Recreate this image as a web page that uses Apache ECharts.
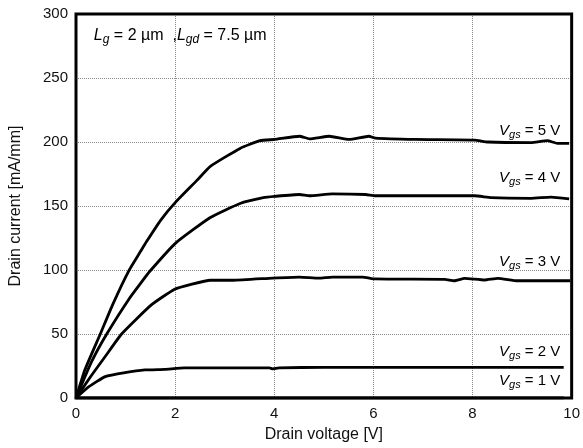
<!DOCTYPE html>
<html>
<head>
<meta charset="utf-8">
<script src="https://cdn.jsdelivr.net/npm/echarts@6/dist/echarts.min.js"></script>
<style>
html,body{margin:0;padding:0;background:#fff;}
#c{width:583px;height:448px;}
</style>
</head>
<body>
<div id="c"></div>
<script>
// ---- data ----
const xTicks = [0, 2, 4, 6, 8, 10];
const yTicks = [0, 50, 100, 150, 200, 250, 300];

const vgs5X = [0, 0.18, 0.49, 0.74, 1.06, 1.31, 1.42, 1.71, 2.01, 2.44, 2.71, 3.31, 3.71, 4.01, 4.51, 4.71, 5.11, 5.51, 5.91, 6.04, 6.84, 8.04, 8.31, 9.18, 9.51, 9.71, 9.95];
const vgs5Y = [0, 22, 50, 73, 99, 115, 122, 139, 153, 170, 181, 195, 201, 202, 204.5, 202.5, 204.5, 202, 204.5, 203, 202, 201.5, 200, 199.5, 201, 199, 199];

const vgs4X = [0, 0.31, 0.62, 1.08, 1.31, 1.49, 2.01, 2.71, 3.31, 3.78, 4.01, 4.51, 4.71, 5.17, 5.84, 6.04, 6.84, 8.04, 8.38, 9.18, 9.58, 9.95];
const vgs4Y = [0, 28, 50, 78, 90, 99, 121, 141, 152, 156.5, 157.5, 159, 158, 159.5, 159, 158, 158, 158, 156.5, 156, 157, 155.5];

const vgs3X = [0, 0.3, 0.6, 0.92, 1.52, 1.99, 2.34, 2.71, 3.17, 3.97, 4.51, 4.9, 5.17, 5.78, 6.04, 7.44, 7.63, 7.84, 8.24, 8.51, 8.91, 9.97];
const vgs3Y = [0, 17, 33, 50, 72.7, 85, 89, 92, 92, 93.7, 94.5, 93.7, 94.5, 94.5, 93, 92.7, 91.6, 93.5, 92.2, 93.5, 91.6, 91.6];

const vgs2X = [0, 0.26, 0.59, 0.99, 1.39, 1.79, 2.19, 3.5, 3.9, 3.97, 4.1, 5, 7, 9.84];
const vgs2Y = [0, 8.8, 16.7, 19.8, 21.9, 22.4, 23.5, 23.5, 23.5, 22.8, 23.5, 24, 24, 24];

const vgs1X = [0, 9.84];
const vgs1Y = [0, 0];

const seriesNames = ['Vgs = 5 V', 'Vgs = 4 V', 'Vgs = 3 V', 'Vgs = 2 V', 'Vgs = 1 V'];
const gateValues = ['5', '4', '3', '2', '1'];
const xTitle = 'Drain voltage [V]';
const yTitle = 'Drain current [mA/mm]';

// ---- chart ----
const zip = (xs, ys) => xs.map((x, i) => [x, ys[i]]);
const allData = [zip(vgs5X, vgs5Y), zip(vgs4X, vgs4Y), zip(vgs3X, vgs3Y), zip(vgs2X, vgs2Y), zip(vgs1X, vgs1Y)];

const FONT = 'Liberation Sans, Arial, sans-serif';
const chart = echarts.init(document.getElementById('c'), null, {renderer: 'canvas'});

chart.setOption({
  animation: false,
  backgroundColor: '#fff',
  grid: {left: 74.5, right: 8.5, top: 14, bottom: 50, show: true, borderColor: '#000', borderWidth: 3, backgroundColor: 'transparent', z: 10},
  xAxis: {
    type: 'value', min: 0, max: 10, interval: 2,
    name: xTitle, nameLocation: 'middle', nameGap: 29,
    nameTextStyle: {fontFamily: FONT, fontSize: 16, color: '#111'},
    axisLine: {show: false}, axisTick: {show: false},
    axisLabel: {fontFamily: FONT, fontSize: 15, color: '#111', margin: 8},
    splitLine: {show: true, lineStyle: {color: '#888', type: [1, 1], width: 1}}
  },
  yAxis: {
    type: 'value', min: 0, max: 300, interval: 50,
    name: yTitle, nameLocation: 'middle', nameGap: 52,
    nameTextStyle: {fontFamily: FONT, fontSize: 16, color: '#111'},
    axisLine: {show: false}, axisTick: {show: false},
    axisLabel: {fontFamily: FONT, fontSize: 15, color: '#111', margin: 8},
    splitLine: {show: true, lineStyle: {color: '#888', type: [1, 1], width: 1}}
  },
  series: allData.map((d, i) => ({
    name: seriesNames[i], type: 'line', data: d, showSymbol: false, symbol: 'none',
    smooth: 0.15,
    lineStyle: {color: '#000', width: 2.8}, z: 5
  }))
});

// annotations (anchored in data space)
const labelAnchors = [[9.77, 208], [9.77, 171], [9.77, 105.5], [9.77, 35], [9.77, 12.5]];
const mkRich = (big, small, pad) => ({
  v: {fontFamily: FONT, fontSize: big, fontStyle: 'italic', color: '#111', lineHeight: big + 2, verticalAlign: 'top'},
  s: {fontFamily: FONT, fontSize: small, fontStyle: 'italic', color: '#111', lineHeight: small + 1, padding: [pad, 0, 0, 0], verticalAlign: 'top'},
  n: {fontFamily: FONT, fontSize: big, color: '#111', lineHeight: big + 2, verticalAlign: 'top'}
});
const graphics = labelAnchors.map((a, i) => {
  const p = chart.convertToPixel({gridIndex: 0}, a);
  return {
    type: 'text', x: p[0], y: p[1], z: 20,
    style: {text: '{v|V}{s|gs}{n| = ' + gateValues[i] + ' V}', rich: mkRich(15, 11, 6), align: 'right', verticalAlign: 'middle'}
  };
});
const lp = chart.convertToPixel({gridIndex: 0}, [0.36, 282.5]);
graphics.push({
  type: 'text', x: lp[0], y: lp[1], z: 20,
  style: {text: '{v|L}{s|g}{n| = 2 µm  ,}{v|L}{s|gd}{n| = 7.5 µm}', rich: mkRich(16, 12, 6), align: 'left', verticalAlign: 'middle'}
});
chart.setOption({graphic: graphics});
</script>
</body>
</html>
